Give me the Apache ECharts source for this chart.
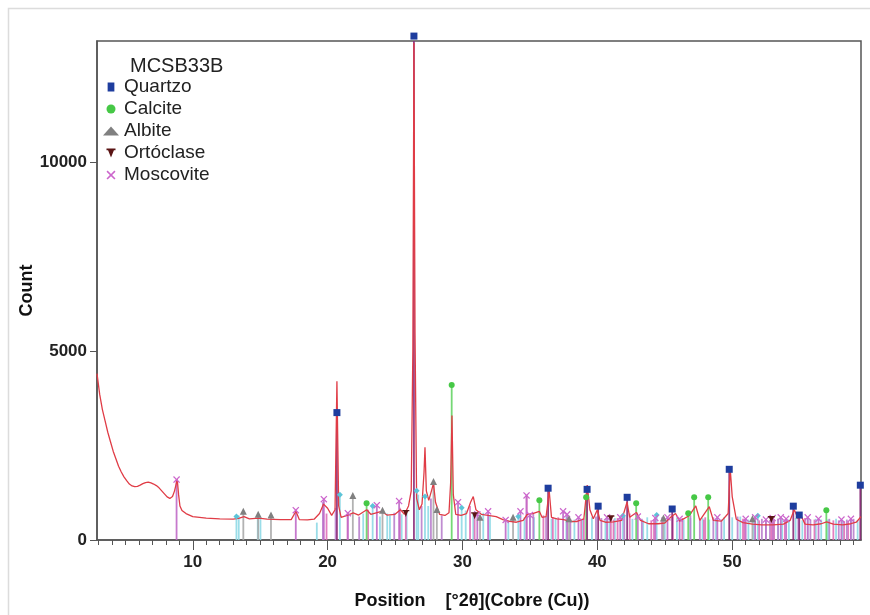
<!DOCTYPE html>
<html>
<head>
<meta charset="utf-8">
<script src="https://cdn.jsdelivr.net/npm/echarts@6/dist/echarts.min.js"></script>
<style>html,body{margin:0;padding:0;background:#fff}#c{width:870px;height:615px}</style>
</head>
<body>
<div id="c"></div>
<script>
// ---------- data ----------
const sampleName = 'MCSB33B';
const xTickLabels = [10, 20, 30, 40, 50];
const yTickLabels = [0, 5000, 10000];

// measured pattern (position °2θ, count)
const patternDeg = [2.9,3.1,3.3,3.5,3.7,3.9,4.1,4.3,4.5,4.7,4.9,5.1,5.3,5.5,5.7,5.9,6.1,6.3,6.5,6.7,6.9,7.1,7.3,7.5,7.7,7.9,8.1,8.3,8.5,8.65,8.75,8.85,8.95,9.05,9.2,9.5,10,11,12,13,13.4,13.8,14.2,14.9,15.5,16.5,17.3,17.65,17.9,18.5,19.0,19.4,19.7,20.0,20.3,20.55,20.69,20.82,21.0,21.5,21.9,22.3,22.9,23.2,23.6,24.0,24.4,25.0,25.4,25.7,26.0,26.2,26.32,26.40,26.48,26.6,26.8,27.0,27.15,27.22,27.32,27.5,27.7,27.85,28.0,28.3,28.7,29.0,29.12,29.22,29.32,29.5,29.9,30.3,30.6,30.8,31.0,31.4,31.9,32.5,33.0,33.5,34.0,34.5,34.8,35.2,35.7,35.9,36.2,36.43,36.6,37.0,37.5,38.0,38.5,39.0,39.25,39.45,39.7,40.0,40.2,40.6,41.2,41.8,42.2,42.4,42.9,43.2,43.8,44.5,45.0,45.5,45.8,46.1,46.8,47.3,47.6,48.3,48.6,49.2,49.7,49.85,50.0,50.3,50.8,51.5,52.2,53.0,53.8,54.3,54.6,54.9,55.1,55.4,56.0,56.6,57.0,57.5,58.2,58.8,59.2,59.55];
const patternCount = [4400,3850,3450,3150,2850,2600,2350,2150,1950,1800,1670,1570,1480,1430,1410,1420,1450,1490,1520,1530,1510,1480,1440,1380,1300,1220,1140,1100,1150,1300,1450,1600,1200,900,780,700,620,580,560,550,570,620,560,580,550,540,540,760,540,530,550,700,950,840,650,800,4200,900,600,660,720,660,800,680,720,760,660,680,800,680,900,1300,5000,13150,5500,1100,800,950,1800,2450,1300,1050,1300,1500,1000,680,650,720,1500,3290,1200,680,650,700,1000,1150,800,680,650,620,540,490,470,520,680,700,760,600,620,1300,600,560,540,490,490,560,1450,800,560,800,520,470,480,520,1000,600,730,520,430,430,450,620,700,500,640,900,520,880,520,500,700,1900,1150,550,460,420,400,400,420,520,800,560,650,420,400,430,480,420,400,430,470,620];

// reference lines of the identified phases (position, intensity at stick top)
const quartzoPos = [20.69,26.40,36.35,39.24,40.06,42.21,45.55,49.78,54.53,54.97,59.5];
const quartzoInt = [3370,13330,1370,1340,895,1130,820,1870,895,660,1450];

const calcitePos = [22.89,29.2,35.7,39.17,42.88,46.74,47.18,48.22,56.98];
const calciteInt = [970,4100,1050,1130,975,710,1130,1130,790];

const albitePos = [13.75,14.85,15.8,21.87,24.07,27.85,28.1,31.3,33.75,37.9,44.9,51.5];
const albiteInt = [760,680,660,1180,790,1550,810,600,600,560,580,560];

const ortoclaseMarkPos = [25.8,30.9,41.0,52.9];
const ortoclaseMarkInt = [700,640,560,540];
const ortoclaseLinePos = [19.92,21.48,23.0,25.36,30.56,34.76,36.0,37.1,38.8,41.5,42.4,44.2,45.6,48.0,50.9,52.0,53.9,55.4,57.5,58.6,36.7,39.0,41.2,44.0,46.3,47.9,50.8,53.1,56.1,58.3];
const ortoclaseLineInt = [700,650,800,850,900,1180,650,600,560,580,700,540,650,600,560,520,540,580,520,500,600,560,540,520,580,540,560,520,540,500];

const moscoviteMarkPos = [8.8,17.64,19.72,21.5,23.65,25.3,29.67,31.1,31.9,33.2,34.3,34.75,35.0,37.46,37.76,38.6,40.72,41.7,43.0,44.3,45.2,46.1,48.9,51.0,51.7,52.5,53.0,53.6,54.0,55.6,56.4,58.1,58.8];
const moscoviteMarkInt = [1600,790,1080,710,920,1030,1000,680,760,530,760,1180,660,760,680,600,600,600,620,580,600,560,600,560,600,540,580,600,560,600,560,540,560];
const moscoviteLinePos = [19.65,20.59,22.34,24.94,26.97,27.66,28.46,35.25,36.2,38.0,39.9,40.3,42.0,43.3,44.8,46.9,47.6,48.6,49.2,50.4,52.2,52.8,53.4,54.9,55.8,57.2,57.9,58.5,59.0];
const moscoviteLineInt = [1000,850,620,720,900,1100,650,700,620,560,620,580,640,560,600,650,560,600,540,620,560,520,560,580,540,560,520,540,560];

// other unlabelled reference lines (cyan sticks)
const outrasPos = [13.24,13.41,14.82,15.02,19.2,20.91,22.64,23.34,23.88,24.42,24.62,25.49,25.86,26.6,26.72,27.22,27.46,29.94,30.24,30.8,31.54,32.04,34.14,35.01,35.3,36.9,37.7,38.3,39.6,40.6,41.3,41.9,42.6,43.7,44.4,45.0,45.9,46.4,47.8,48.8,49.4,50.6,51.2,51.9,52.5,53.1,53.7,54.2,55.6,56.2,56.6,57.7,58.2,58.8,59.3,33.4,34.6,36.6,38.9,40.9,43.4,46.9,48.3,50.0,51.6,53.4,54.7,55.2,57.1];
const outrasInt = [620,650,560,600,460,1200,700,900,620,700,650,680,700,1300,1200,1150,900,850,780,700,720,640,620,650,600,560,620,540,600,560,580,640,560,600,660,560,600,540,580,560,600,620,540,640,560,520,580,540,600,560,540,560,520,540,520,520,600,560,540,560,520,580,540,600,520,560,580,520,540];
const outrasMarkPos = [13.24,20.91,23.34,26.6,27.22,29.94,34.14,41.9,44.4,51.9];
const outrasMarkInt = [620,1200,900,1300,1150,850,620,640,660,640];

// ---------- chart ----------
const FONT = '"Liberation Sans Narrow","Liberation Sans",Arial,sans-serif';
const xMin = 2.9, xMax = 59.55, yMax = 13200;
const zip = (a, b) => a.map((v, i) => [v, b[i]]);

function stickSeries(name, pos, inten, color, width) {
  return {
    name: name, type: 'custom', xAxisIndex: 0, yAxisIndex: 0, silent: true, z: 2,
    data: zip(pos, inten),
    encode: { x: 0, y: 1 },
    renderItem: function (params, api) {
      const x = api.value(0);
      const h = Math.min(api.value(1), yMax);
      const p0 = api.coord([x, 0]);
      const p1 = api.coord([x, h]);
      return { type: 'line', shape: { x1: p0[0], y1: p0[1], x2: p1[0], y2: p1[1] },
               style: { stroke: color, lineWidth: width || 1.8, opacity: 0.9 } };
    }
  };
}
function markSeries(name, pos, inten, symbol, size, color) {
  return { name: name, type: 'scatter', xAxisIndex: 0, yAxisIndex: 0, z: 5, clip: false,
    symbol: symbol, symbolSize: size, data: zip(pos, inten),
    itemStyle: { color: color, opacity: 1 }, silent: true };
}

const SYM_SQ = 'path://M0,0h6v8h-6z';
const SYM_INV = 'path://M0,0H8V1.5H6.6L4,8L1.4,1.5H0Z';
const SYM_X = 'path://M0,1L1,0L4,3L7,0L8,1L5,4L8,7L7,8L4,5L1,8L0,7L3,4Z';
const SYM_DIA = 'path://M3,0L6,3L3,6L0,3Z';

const minorTicks = [];
for (let d = 3; d <= 59; d++) minorTicks.push(d);

const chart = echarts.init(document.getElementById('c'), null, { renderer: 'canvas' });
chart.setOption({
  animation: false,
  backgroundColor: '#fff',
  title: { text: sampleName, left: 125, top: 51, textStyle: { fontFamily: 'Liberation Sans, Arial', fontSize: 20, fontWeight: 'normal', color: '#222' } },
  legend: {
    orient: 'vertical', left: 103, top: 76, padding: 0, itemGap: 0,
    itemWidth: 16, itemHeight: 9,
    textStyle: { fontFamily: 'Liberation Sans, Arial', fontSize: 19, color: '#222', lineHeight: 22 },
    data: [
      { name: 'Quartzo', icon: SYM_SQ },
      { name: 'Calcite', icon: 'circle' },
      { name: 'Albite', icon: 'triangle' },
      { name: 'Ortóclase', icon: SYM_INV },
      { name: 'Moscovite', icon: SYM_X }
    ],
    selectedMode: false
  },
  graphic: [{ type: 'rect', shape: { x: 8.5, y: 8.5, width: 900, height: 700 }, style: { fill: 'none', stroke: '#dcdcdc', lineWidth: 1.5 }, z: -1, silent: true }],
  grid: { left: 97, right: 9, top: 41, bottom: 72, show: true, borderColor: '#555', borderWidth: 1.5, backgroundColor: 'transparent' },
  xAxis: [{
    type: 'value', min: xMin, max: xMax, position: 'bottom',
    name: 'Position    [°2θ](Cobre (Cu))', nameLocation: 'middle', nameGap: 52, nameMoveOverlap: false,
    nameTextStyle: { fontFamily: FONT, fontSize: 18, fontWeight: 'bold', color: '#111', padding: [0, 14, 0, 0] },
    axisLine: { show: true, lineStyle: { color: '#555', width: 1.5 } },
    axisTick: { show: true, length: 10, customValues: xTickLabels, lineStyle: { color: '#555' } },
    axisLabel: { customValues: xTickLabels, formatter: v => String(v), fontFamily: FONT, fontSize: 17, fontWeight: 'bold', color: '#222', margin: 14 },
    splitLine: { show: false }
  }, {
    type: 'value', min: xMin, max: xMax, position: 'bottom',
    axisLine: { show: false },
    axisTick: { show: true, length: 5, customValues: minorTicks, lineStyle: { color: '#555' } },
    axisLabel: { show: false }, splitLine: { show: false }
  }],
  yAxis: [{
    type: 'value', min: 0, max: yMax,
    name: 'Count', nameLocation: 'middle', nameGap: 61, nameRotate: 90, nameMoveOverlap: false,
    nameTextStyle: { fontFamily: FONT, fontSize: 18, fontWeight: 'bold', color: '#111' },
    axisLine: { show: true, lineStyle: { color: '#555', width: 1.5 } },
    axisTick: { show: true, length: 7, customValues: yTickLabels, lineStyle: { color: '#555' } },
    axisLabel: { customValues: yTickLabels, formatter: v => String(v), fontFamily: FONT, fontSize: 17, fontWeight: 'bold', color: '#222', margin: 10 },
    splitLine: { show: false }
  }],
  series: [
    stickSeries('outras', outrasPos, outrasInt, '#8fd9e6'),
    stickSeries('Ortóclase linhas', ortoclaseLinePos, ortoclaseLineInt, '#e070b8'),
    stickSeries('Moscovite linhas', moscoviteLinePos, moscoviteLineInt, '#b97fcc'),
    stickSeries('Moscovite picos', moscoviteMarkPos, moscoviteMarkInt, '#c06ac8'),
    stickSeries('Albite linhas', albitePos, albiteInt, '#aaaaaa'),
    stickSeries('Calcite linhas', calcitePos, calciteInt, '#66d466'),
    stickSeries('Ortóclase picos', ortoclaseMarkPos, ortoclaseMarkInt, '#e070b8'),
    {
      name: 'MCSB33B', type: 'line', xAxisIndex: 0, yAxisIndex: 0, z: 3,
      data: zip(patternDeg, patternCount), showSymbol: false, symbol: 'none',
      lineStyle: { color: '#e03c46', width: 1.3 }, silent: true
    },
    stickSeries('Quartzo linhas', quartzoPos, quartzoInt, '#8a2a78', 1.8),
    markSeries('outras marcas', outrasMarkPos, outrasMarkInt, SYM_DIA, 6, '#5cc4d8'),
    markSeries('Moscovite', moscoviteMarkPos, moscoviteMarkInt, SYM_X, 7, '#cc66cc'),
    markSeries('Ortóclase', ortoclaseMarkPos, ortoclaseMarkInt, SYM_INV, 7, '#5a1414'),
    markSeries('Albite', albitePos, albiteInt, 'triangle', 7, '#808080'),
    markSeries('Calcite', calcitePos, calciteInt, 'circle', 6, '#46c846'),
    markSeries('Quartzo', quartzoPos, quartzoInt, SYM_SQ, 7, '#1e3d9e')
  ]
});
</script>
</body>
</html>
